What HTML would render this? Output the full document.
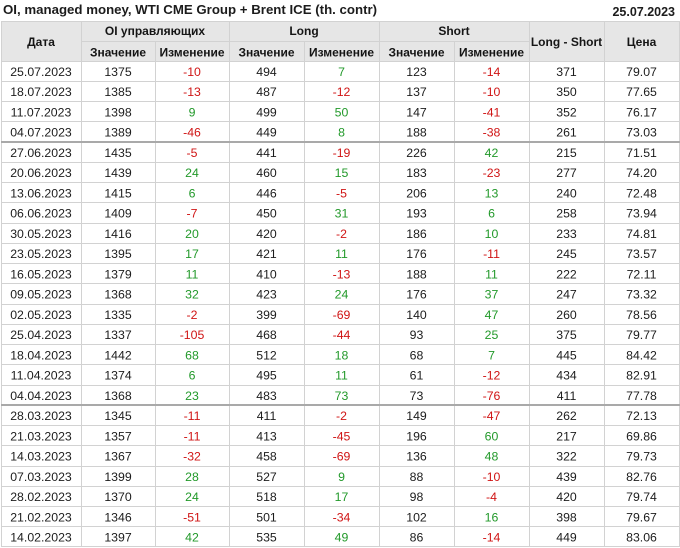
<!DOCTYPE html>
<html><head><meta charset="utf-8"><style>
html,body{margin:0;padding:0;background:#fff;}
svg{display:block;}
text{font-family:"Liberation Sans",Arial,sans-serif;fill:#1c1c1c;}
.d text{font-size:12.3px;text-anchor:middle;}
.h{font-size:12px;font-weight:bold;text-anchor:middle;fill:#151515;}
.r{fill:#d01515 !important;}
.g{fill:#22992a !important;}
</style></head><body>
<svg width="680" height="548" viewBox="0 0 680 548" shape-rendering="crispEdges">
<rect width="680" height="548" fill="#fff"/>
<text x="3" y="14" font-size="13.25" font-weight="bold" fill="#151515">OI, managed money, WTI CME Group + Brent ICE (th. contr)</text>
<text x="675" y="16" font-size="12.5" font-weight="bold" text-anchor="end" fill="#151515">25.07.2023</text>
<rect x="1" y="21" width="678" height="40" fill="#e6e6e6"/>
<text class="h" x="41" y="46">Дата</text>
<text class="h" x="155" y="35">OI управляющих</text>
<text class="h" x="304" y="35">Long</text>
<text class="h" x="454" y="35">Short</text>
<text class="h" x="566.5" y="46">Long - Short</text>
<text class="h" x="641.5" y="46">Цена</text>
<text class="h" x="118" y="56.5">Значение</text>
<text class="h" x="192" y="56.5">Изменение</text>
<text class="h" x="266.5" y="56.5">Значение</text>
<text class="h" x="341.5" y="56.5">Изменение</text>
<text class="h" x="416.5" y="56.5">Значение</text>
<text class="h" x="491.5" y="56.5">Изменение</text>
<g fill="#d2d2d2">
<rect x="1" y="21" width="678" height="1"/>
<rect x="81" y="41" width="448" height="1"/>
<rect x="1" y="61" width="678" height="1"/>
<rect x="1" y="81" width="678" height="1"/>
<rect x="1" y="101" width="678" height="1"/>
<rect x="1" y="121" width="678" height="1"/>
<rect x="1" y="162" width="678" height="1"/>
<rect x="1" y="182" width="678" height="1"/>
<rect x="1" y="202" width="678" height="1"/>
<rect x="1" y="223" width="678" height="1"/>
<rect x="1" y="243" width="678" height="1"/>
<rect x="1" y="263" width="678" height="1"/>
<rect x="1" y="283" width="678" height="1"/>
<rect x="1" y="304" width="678" height="1"/>
<rect x="1" y="324" width="678" height="1"/>
<rect x="1" y="344" width="678" height="1"/>
<rect x="1" y="364" width="678" height="1"/>
<rect x="1" y="385" width="678" height="1"/>
<rect x="1" y="425" width="678" height="1"/>
<rect x="1" y="445" width="678" height="1"/>
<rect x="1" y="466" width="678" height="1"/>
<rect x="1" y="486" width="678" height="1"/>
<rect x="1" y="506" width="678" height="1"/>
<rect x="1" y="526" width="678" height="1"/>
<rect x="1" y="546" width="679" height="1"/>
<rect x="1" y="21" width="1" height="526"/>
<rect x="679" y="21" width="1" height="526"/>
<rect x="81" y="21" width="1" height="526"/>
<rect x="229" y="21" width="1" height="526"/>
<rect x="379" y="21" width="1" height="526"/>
<rect x="529" y="21" width="1" height="526"/>
<rect x="604" y="21" width="1" height="526"/>
<rect x="155" y="41" width="1" height="506"/>
<rect x="304" y="41" width="1" height="506"/>
<rect x="454" y="41" width="1" height="506"/>
</g>
<g fill="#a9a9a9">
<rect x="1" y="141" width="679" height="2"/>
<rect x="1" y="404" width="679" height="2"/>
</g>
<g class="d">
<g transform="translate(0,61)"><text x="41" y="14.8">25.07.2023</text><text x="118" y="14.8">1375</text><text x="192" y="14.8" class="r">-10</text><text x="266.5" y="14.8">494</text><text x="341.5" y="14.8" class="g">7</text><text x="416.5" y="14.8">123</text><text x="491.5" y="14.8" class="r">-14</text><text x="566.5" y="14.8">371</text><text x="641.5" y="14.8">79.07</text></g>
<g transform="translate(0,81.25)"><text x="41" y="14.8">18.07.2023</text><text x="118" y="14.8">1385</text><text x="192" y="14.8" class="r">-13</text><text x="266.5" y="14.8">487</text><text x="341.5" y="14.8" class="r">-12</text><text x="416.5" y="14.8">137</text><text x="491.5" y="14.8" class="r">-10</text><text x="566.5" y="14.8">350</text><text x="641.5" y="14.8">77.65</text></g>
<g transform="translate(0,101.5)"><text x="41" y="14.8">11.07.2023</text><text x="118" y="14.8">1398</text><text x="192" y="14.8" class="g">9</text><text x="266.5" y="14.8">499</text><text x="341.5" y="14.8" class="g">50</text><text x="416.5" y="14.8">147</text><text x="491.5" y="14.8" class="r">-41</text><text x="566.5" y="14.8">352</text><text x="641.5" y="14.8">76.17</text></g>
<g transform="translate(0,121.75)"><text x="41" y="14.8">04.07.2023</text><text x="118" y="14.8">1389</text><text x="192" y="14.8" class="r">-46</text><text x="266.5" y="14.8">449</text><text x="341.5" y="14.8" class="g">8</text><text x="416.5" y="14.8">188</text><text x="491.5" y="14.8" class="r">-38</text><text x="566.5" y="14.8">261</text><text x="641.5" y="14.8">73.03</text></g>
<g transform="translate(0,142)"><text x="41" y="14.8">27.06.2023</text><text x="118" y="14.8">1435</text><text x="192" y="14.8" class="r">-5</text><text x="266.5" y="14.8">441</text><text x="341.5" y="14.8" class="r">-19</text><text x="416.5" y="14.8">226</text><text x="491.5" y="14.8" class="g">42</text><text x="566.5" y="14.8">215</text><text x="641.5" y="14.8">71.51</text></g>
<g transform="translate(0,162.25)"><text x="41" y="14.8">20.06.2023</text><text x="118" y="14.8">1439</text><text x="192" y="14.8" class="g">24</text><text x="266.5" y="14.8">460</text><text x="341.5" y="14.8" class="g">15</text><text x="416.5" y="14.8">183</text><text x="491.5" y="14.8" class="r">-23</text><text x="566.5" y="14.8">277</text><text x="641.5" y="14.8">74.20</text></g>
<g transform="translate(0,182.5)"><text x="41" y="14.8">13.06.2023</text><text x="118" y="14.8">1415</text><text x="192" y="14.8" class="g">6</text><text x="266.5" y="14.8">446</text><text x="341.5" y="14.8" class="r">-5</text><text x="416.5" y="14.8">206</text><text x="491.5" y="14.8" class="g">13</text><text x="566.5" y="14.8">240</text><text x="641.5" y="14.8">72.48</text></g>
<g transform="translate(0,202.75)"><text x="41" y="14.8">06.06.2023</text><text x="118" y="14.8">1409</text><text x="192" y="14.8" class="r">-7</text><text x="266.5" y="14.8">450</text><text x="341.5" y="14.8" class="g">31</text><text x="416.5" y="14.8">193</text><text x="491.5" y="14.8" class="g">6</text><text x="566.5" y="14.8">258</text><text x="641.5" y="14.8">73.94</text></g>
<g transform="translate(0,223)"><text x="41" y="14.8">30.05.2023</text><text x="118" y="14.8">1416</text><text x="192" y="14.8" class="g">20</text><text x="266.5" y="14.8">420</text><text x="341.5" y="14.8" class="r">-2</text><text x="416.5" y="14.8">186</text><text x="491.5" y="14.8" class="g">10</text><text x="566.5" y="14.8">233</text><text x="641.5" y="14.8">74.81</text></g>
<g transform="translate(0,243.25)"><text x="41" y="14.8">23.05.2023</text><text x="118" y="14.8">1395</text><text x="192" y="14.8" class="g">17</text><text x="266.5" y="14.8">421</text><text x="341.5" y="14.8" class="g">11</text><text x="416.5" y="14.8">176</text><text x="491.5" y="14.8" class="r">-11</text><text x="566.5" y="14.8">245</text><text x="641.5" y="14.8">73.57</text></g>
<g transform="translate(0,263.5)"><text x="41" y="14.8">16.05.2023</text><text x="118" y="14.8">1379</text><text x="192" y="14.8" class="g">11</text><text x="266.5" y="14.8">410</text><text x="341.5" y="14.8" class="r">-13</text><text x="416.5" y="14.8">188</text><text x="491.5" y="14.8" class="g">11</text><text x="566.5" y="14.8">222</text><text x="641.5" y="14.8">72.11</text></g>
<g transform="translate(0,283.75)"><text x="41" y="14.8">09.05.2023</text><text x="118" y="14.8">1368</text><text x="192" y="14.8" class="g">32</text><text x="266.5" y="14.8">423</text><text x="341.5" y="14.8" class="g">24</text><text x="416.5" y="14.8">176</text><text x="491.5" y="14.8" class="g">37</text><text x="566.5" y="14.8">247</text><text x="641.5" y="14.8">73.32</text></g>
<g transform="translate(0,304)"><text x="41" y="14.8">02.05.2023</text><text x="118" y="14.8">1335</text><text x="192" y="14.8" class="r">-2</text><text x="266.5" y="14.8">399</text><text x="341.5" y="14.8" class="r">-69</text><text x="416.5" y="14.8">140</text><text x="491.5" y="14.8" class="g">47</text><text x="566.5" y="14.8">260</text><text x="641.5" y="14.8">78.56</text></g>
<g transform="translate(0,324.25)"><text x="41" y="14.8">25.04.2023</text><text x="118" y="14.8">1337</text><text x="192" y="14.8" class="r">-105</text><text x="266.5" y="14.8">468</text><text x="341.5" y="14.8" class="r">-44</text><text x="416.5" y="14.8">93</text><text x="491.5" y="14.8" class="g">25</text><text x="566.5" y="14.8">375</text><text x="641.5" y="14.8">79.77</text></g>
<g transform="translate(0,344.5)"><text x="41" y="14.8">18.04.2023</text><text x="118" y="14.8">1442</text><text x="192" y="14.8" class="g">68</text><text x="266.5" y="14.8">512</text><text x="341.5" y="14.8" class="g">18</text><text x="416.5" y="14.8">68</text><text x="491.5" y="14.8" class="g">7</text><text x="566.5" y="14.8">445</text><text x="641.5" y="14.8">84.42</text></g>
<g transform="translate(0,364.75)"><text x="41" y="14.8">11.04.2023</text><text x="118" y="14.8">1374</text><text x="192" y="14.8" class="g">6</text><text x="266.5" y="14.8">495</text><text x="341.5" y="14.8" class="g">11</text><text x="416.5" y="14.8">61</text><text x="491.5" y="14.8" class="r">-12</text><text x="566.5" y="14.8">434</text><text x="641.5" y="14.8">82.91</text></g>
<g transform="translate(0,385)"><text x="41" y="14.8">04.04.2023</text><text x="118" y="14.8">1368</text><text x="192" y="14.8" class="g">23</text><text x="266.5" y="14.8">483</text><text x="341.5" y="14.8" class="g">73</text><text x="416.5" y="14.8">73</text><text x="491.5" y="14.8" class="r">-76</text><text x="566.5" y="14.8">411</text><text x="641.5" y="14.8">77.78</text></g>
<g transform="translate(0,405.25)"><text x="41" y="14.8">28.03.2023</text><text x="118" y="14.8">1345</text><text x="192" y="14.8" class="r">-11</text><text x="266.5" y="14.8">411</text><text x="341.5" y="14.8" class="r">-2</text><text x="416.5" y="14.8">149</text><text x="491.5" y="14.8" class="r">-47</text><text x="566.5" y="14.8">262</text><text x="641.5" y="14.8">72.13</text></g>
<g transform="translate(0,425.5)"><text x="41" y="14.8">21.03.2023</text><text x="118" y="14.8">1357</text><text x="192" y="14.8" class="r">-11</text><text x="266.5" y="14.8">413</text><text x="341.5" y="14.8" class="r">-45</text><text x="416.5" y="14.8">196</text><text x="491.5" y="14.8" class="g">60</text><text x="566.5" y="14.8">217</text><text x="641.5" y="14.8">69.86</text></g>
<g transform="translate(0,445.75)"><text x="41" y="14.8">14.03.2023</text><text x="118" y="14.8">1367</text><text x="192" y="14.8" class="r">-32</text><text x="266.5" y="14.8">458</text><text x="341.5" y="14.8" class="r">-69</text><text x="416.5" y="14.8">136</text><text x="491.5" y="14.8" class="g">48</text><text x="566.5" y="14.8">322</text><text x="641.5" y="14.8">79.73</text></g>
<g transform="translate(0,466)"><text x="41" y="14.8">07.03.2023</text><text x="118" y="14.8">1399</text><text x="192" y="14.8" class="g">28</text><text x="266.5" y="14.8">527</text><text x="341.5" y="14.8" class="g">9</text><text x="416.5" y="14.8">88</text><text x="491.5" y="14.8" class="r">-10</text><text x="566.5" y="14.8">439</text><text x="641.5" y="14.8">82.76</text></g>
<g transform="translate(0,486.25)"><text x="41" y="14.8">28.02.2023</text><text x="118" y="14.8">1370</text><text x="192" y="14.8" class="g">24</text><text x="266.5" y="14.8">518</text><text x="341.5" y="14.8" class="g">17</text><text x="416.5" y="14.8">98</text><text x="491.5" y="14.8" class="r">-4</text><text x="566.5" y="14.8">420</text><text x="641.5" y="14.8">79.74</text></g>
<g transform="translate(0,506.5)"><text x="41" y="14.8">21.02.2023</text><text x="118" y="14.8">1346</text><text x="192" y="14.8" class="r">-51</text><text x="266.5" y="14.8">501</text><text x="341.5" y="14.8" class="r">-34</text><text x="416.5" y="14.8">102</text><text x="491.5" y="14.8" class="g">16</text><text x="566.5" y="14.8">398</text><text x="641.5" y="14.8">79.67</text></g>
<g transform="translate(0,526.75)"><text x="41" y="14.8">14.02.2023</text><text x="118" y="14.8">1397</text><text x="192" y="14.8" class="g">42</text><text x="266.5" y="14.8">535</text><text x="341.5" y="14.8" class="g">49</text><text x="416.5" y="14.8">86</text><text x="491.5" y="14.8" class="r">-14</text><text x="566.5" y="14.8">449</text><text x="641.5" y="14.8">83.06</text></g>
</g>
</svg>
</body></html>
